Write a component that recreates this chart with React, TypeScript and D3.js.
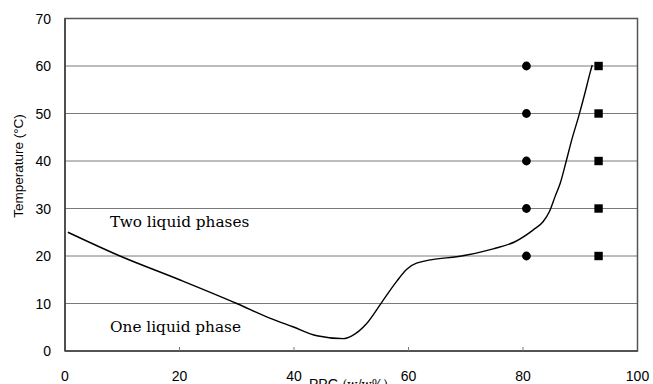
import * as d3 from "d3";

// phase boundary curve
const ppgCurve = [0.5, 9.6, 20, 30, 36, 39.8, 44, 48.6, 50.1, 52.7, 55.3, 57.9, 59.7, 61.4, 70.2, 74.8, 78.6, 81.8, 83.5, 84.6, 85.6, 86.5, 87.6, 88.5, 89.7, 90.8, 91.7, 92.1];
const tempCurve = [25, 20, 15, 10, 6.8, 5.1, 3.2, 2.6, 3.2, 5.8, 10.2, 14.6, 17.2, 18.5, 20.2, 21.5, 23, 25.5, 27.2, 29.3, 32.5, 35.3, 40.2, 44.4, 49.3, 54.2, 58.5, 60.2];

// measured points
const circlePpg = [80.6, 80.6, 80.6, 80.6, 80.6];
const circleTemp = [20, 30, 40, 50, 60];
const squarePpg = [93.2, 93.2, 93.2, 93.2, 93.2];
const squareTemp = [20, 30, 40, 50, 60];

const xTicks = [0, 20, 40, 60, 80, 100];
const yTicks = [0, 10, 20, 30, 40, 50, 60, 70];

const W = 653;
const H = 384;

export default function App() {
  const x = d3.scaleLinear().domain([0, 100]).range([65, 637.5]);
  const y = d3.scaleLinear().domain([0, 70]).range([351, 18.5]);

  const pts = ppgCurve.map((p, i) => [p, tempCurve[i]] as [number, number]);
  const line = d3
    .line<[number, number]>()
    .x((d) => x(d[0]))
    .y((d) => y(d[1]))
    .curve(d3.curveMonotoneX);

  const sans = "'Liberation Sans', Arial, sans-serif";
  const serif = "'DejaVu Serif', 'Liberation Serif', serif";

  return (
    <svg
      width={W}
      height={H}
      style={{ position: "absolute", left: 0, top: 0, background: "#fff" }}
    >
      {/* grid */}
      {yTicks.slice(1, -1).map((t) => (
        <line key={t} x1={x(0)} x2={x(100)} y1={y(t)} y2={y(t)} stroke="#7a7a7a" strokeWidth={1} />
      ))}

      {/* frame */}
      <rect x={x(0)} y={y(70)} width={x(100) - x(0)} height={y(0) - y(70)} fill="none" stroke="#555" strokeWidth={1.5} />
      <line x1={x(0)} x2={x(0)} y1={y(0)} y2={y(70)} stroke="#444" strokeWidth={1.6} />
      <line x1={x(0)} x2={x(100)} y1={y(0)} y2={y(0)} stroke="#444" strokeWidth={1.6} />

      {/* x ticks */}
      {xTicks.slice(1, -1).map((t) => (
        <line key={t} x1={x(t)} x2={x(t)} y1={y(0)} y2={y(0) - 4} stroke="#777" strokeWidth={1} />
      ))}

      {/* tick labels */}
      {yTicks.map((t) => (
        <text key={t} x={51} y={y(t)} dy="0.36em" textAnchor="end" fontFamily={sans} fontSize={14} fill="#000">
          {t}
        </text>
      ))}
      {xTicks.map((t) => (
        <text key={t} x={x(t)} y={381} textAnchor="middle" fontFamily={sans} fontSize={14} fill="#000">
          {t}
        </text>
      ))}

      {/* axis titles */}
      <text
        transform="translate(23,166) rotate(-90)"
        textAnchor="middle"
        fontFamily={sans}
        fontSize={13.5}
        fill="#000"
      >
        Temperature (°C)
      </text>
      <text x={309} y={389} fontFamily={sans} fontSize={14} fill="#000">
        PPG
        <tspan fontFamily={serif} fontSize={12} dx={4}>
          (w/w%)
        </tspan>
      </text>

      {/* region labels */}
      <text x={110} y={227} fontFamily={serif} fontSize={15.3} fill="#000">
        Two liquid phases
      </text>
      <text x={110} y={332} fontFamily={serif} fontSize={15.3} fill="#000">
        One liquid phase
      </text>

      {/* boundary curve */}
      <path d={line(pts) ?? ""} fill="none" stroke="#000" strokeWidth={1.4} />

      {/* markers */}
      {circlePpg.map((p, i) => (
        <circle key={"c" + i} cx={x(p)} cy={y(circleTemp[i])} r={4.4} fill="#000" />
      ))}
      {squarePpg.map((p, i) => (
        <rect key={"s" + i} x={x(p) - 4.2} y={y(squareTemp[i]) - 4.2} width={8.4} height={8.4} fill="#000" />
      ))}
    </svg>
  );
}
